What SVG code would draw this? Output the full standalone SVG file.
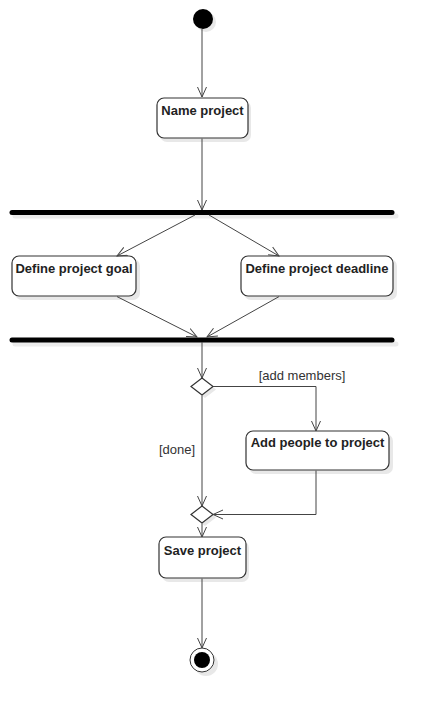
<svg xmlns="http://www.w3.org/2000/svg" width="434" height="713" viewBox="0 0 434 713">
<defs>
<style>
.box{fill:#fff;stroke:#333;stroke-width:1.2}
.sh{fill:#e8e8e8;stroke:none}
.t{font-family:"Liberation Sans",Arial,sans-serif;font-size:13px;font-weight:bold;fill:#222;text-anchor:middle}
.lbl{font-family:"Liberation Sans",Arial,sans-serif;font-size:13px;fill:#333;text-anchor:middle}
.c{fill:none;stroke:#444;stroke-width:1}
.bar{stroke:#000;stroke-width:5;stroke-linecap:round}
.barsh{stroke:#ececec;stroke-width:5;stroke-linecap:round}
</style>
<marker id="arr" markerWidth="12" markerHeight="12" refX="10" refY="6" orient="auto" markerUnits="userSpaceOnUse">
<path d="M0,1.5 L10,6 L0,10.5" fill="none" stroke="#444" stroke-width="1"/>
</marker>
</defs>
<g id="start">
<circle cx="206" cy="22" r="10" class="sh"/>
<circle cx="203" cy="19" r="10" fill="#000"/>
</g>
<g id="name-project">
<rect x="160" y="101" width="91" height="41" rx="7" class="sh"/>
<rect x="157" y="98" width="91" height="40" rx="7" class="box"/>
<text class="t" x="202.5" y="115">Name project</text>
</g>
<g id="fork">
<line x1="15" y1="216" x2="396" y2="216" class="barsh"/>
<line x1="12" y1="212.5" x2="392" y2="212.5" class="bar"/>
</g>
<g id="define-goal">
<rect x="15" y="259" width="125" height="41" rx="7" class="sh"/>
<rect x="12" y="256" width="124" height="40" rx="7" class="box"/>
<text class="t" x="74" y="273">Define project goal</text>
</g>
<g id="define-deadline">
<rect x="244" y="259" width="153" height="41" rx="7" class="sh"/>
<rect x="241" y="256" width="152" height="40" rx="7" class="box"/>
<text class="t" x="317" y="273">Define project deadline</text>
</g>
<g id="join">
<line x1="15" y1="344" x2="396" y2="344" class="barsh"/>
<line x1="12" y1="340" x2="392" y2="340" class="bar"/>
</g>
<g id="decision">
<path d="M205,381 L216,389.5 L205,398 L194,389.5 Z" class="sh"/>
<path d="M202,378 L213,386.5 L202,395 L191,386.5 Z" class="box"/>
</g>
<g id="add-people">
<rect x="249" y="434" width="144" height="40" rx="7" class="sh"/>
<rect x="246" y="431" width="143" height="39" rx="7" class="box"/>
<text class="t" x="317.5" y="447">Add people to project</text>
</g>
<g id="merge">
<path d="M205,509 L216,517.5 L205,526 L194,517.5 Z" class="sh"/>
<path d="M202,506 L213,514.5 L202,523 L191,514.5 Z" class="box"/>
</g>
<g id="save-project">
<rect x="162" y="541" width="87" height="41" rx="7" class="sh"/>
<rect x="159" y="537" width="87" height="41" rx="7" class="box"/>
<text class="t" x="202.5" y="555">Save project</text>
</g>
<g id="end">
<circle cx="206" cy="664" r="12" class="sh"/>
<circle cx="202" cy="660" r="12" fill="#fff" stroke="#333" stroke-width="1"/>
<circle cx="202" cy="660" r="8" fill="#000"/>
</g>
<g id="connectors">
<path class="c" d="M202,29 L202,97" marker-end="url(#arr)"/>
<path class="c" d="M202,138.6 L202,210" marker-end="url(#arr)"/>
<path class="c" d="M195,215 L117,256" marker-end="url(#arr)"/>
<path class="c" d="M209,215 L279,256" marker-end="url(#arr)"/>
<path class="c" d="M117,296.6 L197,337" marker-end="url(#arr)"/>
<path class="c" d="M279,296.6 L207,337" marker-end="url(#arr)"/>
<path class="c" d="M202,342 L202,378" marker-end="url(#arr)"/>
<path class="c" d="M213,386.5 L316,386.5 L316,431" marker-end="url(#arr)"/>
<path class="c" d="M202,395.5 L202,506" marker-end="url(#arr)"/>
<path class="c" d="M316,470.6 L316,514.5 L213,514.5" marker-end="url(#arr)"/>
<path class="c" d="M202,523.5 L202,537" marker-end="url(#arr)"/>
<path class="c" d="M202,578.6 L202,648" marker-end="url(#arr)"/>
<text class="lbl" x="302" y="380">[add members]</text>
<text class="lbl" x="177" y="454">[done]</text>
</g>
</svg>
